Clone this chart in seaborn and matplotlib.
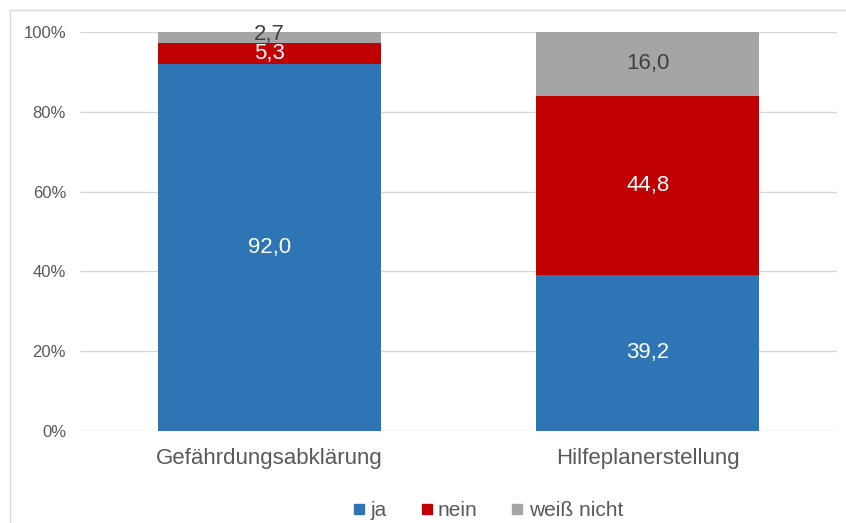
import numpy as np
import pandas as pd
import matplotlib
matplotlib.use("Agg")
import matplotlib.pyplot as plt
import seaborn as sns
from matplotlib.lines import Line2D

# Data (percent)
categories = ["Gefährdungsabklärung", "Hilfeplanerstellung"]
series_names = ["ja", "nein", "weiß nicht"]
ja = [92.0, 39.2]
nein = [5.3, 44.8]
weiss_nicht = [2.7, 16.0]
yticks = [0, 20, 40, 60, 80, 100]

colors = ["#2E75B6", "#C00000", "#A5A5A5"]
label_colors = ["white", "white", "#404040"]

sns.set_theme(style="white")
plt.rcParams['font.family'] = ['Liberation Sans', 'DejaVu Sans']

fig = plt.figure(figsize=(8.46, 5.23), dpi=100)
ax = fig.add_axes([80 / 846, 1 - 431 / 523, (837 - 80) / 846, (431 - 32) / 523])

bottom = np.zeros(len(categories))
for name, vals, col, lc in zip(series_names, [ja, nein, weiss_nicht], colors, label_colors):
    sns.barplot(x=categories, y=vals, bottom=bottom, color=col, saturation=1,
                width=0.589, linewidth=0, ax=ax, zorder=3)
    for i, v in enumerate(vals):
        y = bottom[i] + v / 2
        if v < 4:  # thin top segment, lift label a touch like the original
            y += 0.8
        ax.text(i, y, f"{v:.1f}".replace(".", ","), ha="center", va="center",
                color=lc, fontsize=16, zorder=4)
    bottom = bottom + np.array(vals)

ax.set_xlim(-0.5, 1.5)
ax.set_ylim(0, 100)
ax.set_yticks(yticks)
ax.set_yticklabels([f"{t}%" for t in yticks], fontsize=12, color="#595959")
ax.tick_params(axis="x", labelsize=16, colors="#595959", length=0, pad=12)
ax.tick_params(axis="y", length=0, pad=10)
ax.yaxis.grid(True, color="#D9D9D9", linewidth=1, zorder=0)
for s in ax.spines.values():
    s.set_visible(False)
ax.set_xlabel("")
ax.set_ylabel("")

handles = [Line2D([], [], marker="s", linestyle="none", markersize=7.5, color=c) for c in colors]
fig.legend(handles, series_names, loc="center", bbox_to_anchor=(486 / 846, 1 - 511 / 523),
           ncol=3, frameon=False, fontsize=15, labelcolor="#595959", handletextpad=0.05,
           columnspacing=1.4, handlelength=1.0)

# light border
fig.add_artist(Line2D([10 / 846, 1], [1 - 10 / 523, 1 - 10 / 523], transform=fig.transFigure,
                      color="#D9D9D9", linewidth=1))
fig.add_artist(Line2D([10 / 846, 10 / 846], [0, 1 - 10 / 523], transform=fig.transFigure,
                      color="#D9D9D9", linewidth=1))

fig.savefig("out.png", dpi=100)
